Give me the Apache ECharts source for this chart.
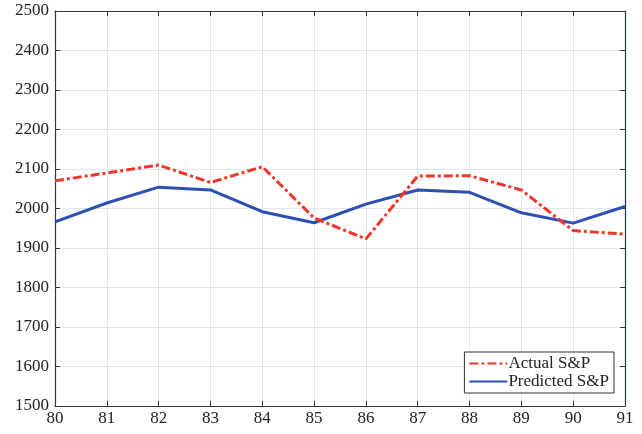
<!DOCTYPE html>
<html><head><meta charset="utf-8">
<script src="https://cdn.jsdelivr.net/npm/echarts@6/dist/echarts.min.js"></script>
<style>html,body{margin:0;padding:0;background:#fff}#c{width:642px;height:434px}</style>
</head><body><div id="c"></div>
<script>
var years = [80,81,82,83,84,85,86,87,88,89,90,91];
var actual = [2070,2090,2110,2066,2106,1976,1923,2082,2083,2047,1944,1935];
var predicted = [1966,2014,2054,2047,1992,1964,2011,2047,2041,1989,1963,2005];
var yTicks = [1500,1600,1700,1800,1900,2000,2100,2200,2300,2400,2500];

var chart = echarts.init(document.getElementById('c'));
var font = '"Liberation Serif", "DejaVu Serif", serif';
var axisCol = '#2b3a40';
var gridCol = '#e1e7ec';
function xa(pos, show) {
  return {type:'value', position:pos, min:80, max:91, interval:1,
    axisLine:{show:true, onZero:false, lineStyle:{color:axisCol, width:1.2}},
    axisTick:{show:true, inside:true, length:5, lineStyle:{color:axisCol}},
    axisLabel:{show:show, color:'#222', fontFamily:font, fontSize:17, margin:4,
      formatter:function(v){return String(v);}},
    splitLine:{show:show, lineStyle:{color:gridCol, width:1}}};
}
function ya(pos, show) {
  return {type:'value', position:pos, min:yTicks[0], max:yTicks[yTicks.length-1], interval:100,
    axisLine:{show:true, onZero:false, lineStyle:{color:axisCol, width:1.2}},
    axisTick:{show:true, inside:true, length:5, lineStyle:{color:axisCol}},
    axisLabel:{show:show, color:'#222', fontFamily:font, fontSize:17, margin:6,
      formatter:function(v){return String(v);}},
    splitLine:{show:show, lineStyle:{color:gridCol, width:1}}};
}
chart.setOption({
  animation:false,
  grid:{left:55, right:17, top:11, bottom:28, containLabel:false},
  xAxis:[xa('bottom', true), xa('top', false)],
  yAxis:[ya('left', true), ya('right', false)],
  legend:{orient:'vertical', right:28, bottom:41, backgroundColor:'#fff',
    borderColor:'#333', borderWidth:1, borderRadius:0, padding:[3,5,3,4], itemGap:1,
    itemWidth:38, itemHeight:14,
    itemStyle:{opacity:0},
    textStyle:{fontFamily:font, fontSize:17, color:'#222', padding:[0,0,0,-4]},
    data:['Actual S&P','Predicted S&P']},
  series:[
    {name:'Actual S&P', type:'line', symbol:'none', z:3,
     data:years.map(function(x,i){return [x, actual[i]];}),
     itemStyle:{color:'#f0362a'},
     lineStyle:{color:'#f0362a', width:3, type:[9,3,3,3]}},
    {name:'Predicted S&P', type:'line', symbol:'none', z:2,
     data:years.map(function(x,i){return [x, predicted[i]];}),
     itemStyle:{color:'#2c4fb2'},
     lineStyle:{color:'#2c4fb2', width:3}}
  ]
});
</script></body></html>
